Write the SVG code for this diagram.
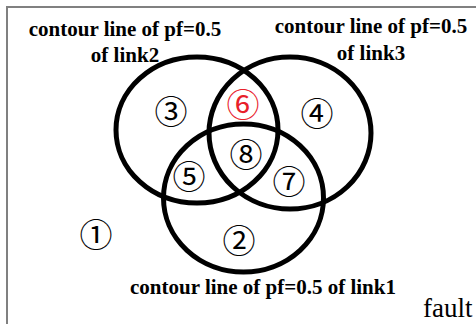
<svg xmlns="http://www.w3.org/2000/svg" width="476" height="324" viewBox="0 0 476 324">
<style>
.frame{fill:none;stroke:#808080;stroke-width:2}
.ring{fill:none;stroke:#000;stroke-width:5}
.lbl{font-weight:bold;font-size:21px;fill:#000;text-anchor:middle}
.num{font-size:33px;fill:#000;text-anchor:middle;dominant-baseline:central}
.fault{font-size:27px;fill:#000}
</style>
<rect width="476" height="324" fill="#fff"/>
<rect class="frame" x="7" y="7" width="480" height="330"/>
<g id="connectors"/>
<g id="link2">
<ellipse class="ring" cx="197" cy="130" rx="81" ry="73"/>
<text class="lbl" x="125" y="36" font-family="Liberation Serif">contour line of pf=0.5</text>
<text class="lbl" x="125" y="62" font-family="Liberation Serif">of link2</text>
</g>
<g id="link3">
<ellipse class="ring" cx="290" cy="133" rx="81" ry="76"/>
<text class="lbl" x="371" y="33" font-family="Liberation Serif">contour line of pf=0.5</text>
<text class="lbl" x="371" y="60" font-family="Liberation Serif">of link3</text>
</g>
<g id="link1">
<ellipse class="ring" cx="243.5" cy="198" rx="80" ry="74"/>
<text class="lbl" x="263" y="294" font-family="Liberation Serif">contour line of pf=0.5 of link1</text>
</g>
<g id="regions" font-family="Noto Sans CJK JP, sans-serif">
<text class="num" x="96" y="233">①</text>
<text class="num" x="239" y="239">②</text>
<text class="num" x="171" y="110">③</text>
<text class="num" x="317" y="112">④</text>
<text class="num" x="189" y="175">⑤</text>
<text class="num" x="243" y="103" style="fill:#e8202a">⑥</text>
<text class="num" x="289" y="180">⑦</text>
<text class="num" x="246" y="153">⑧</text>
</g>
<g id="fault">
<text class="fault" x="423" y="317" font-family="Liberation Serif">fault</text>
</g>
</svg>
